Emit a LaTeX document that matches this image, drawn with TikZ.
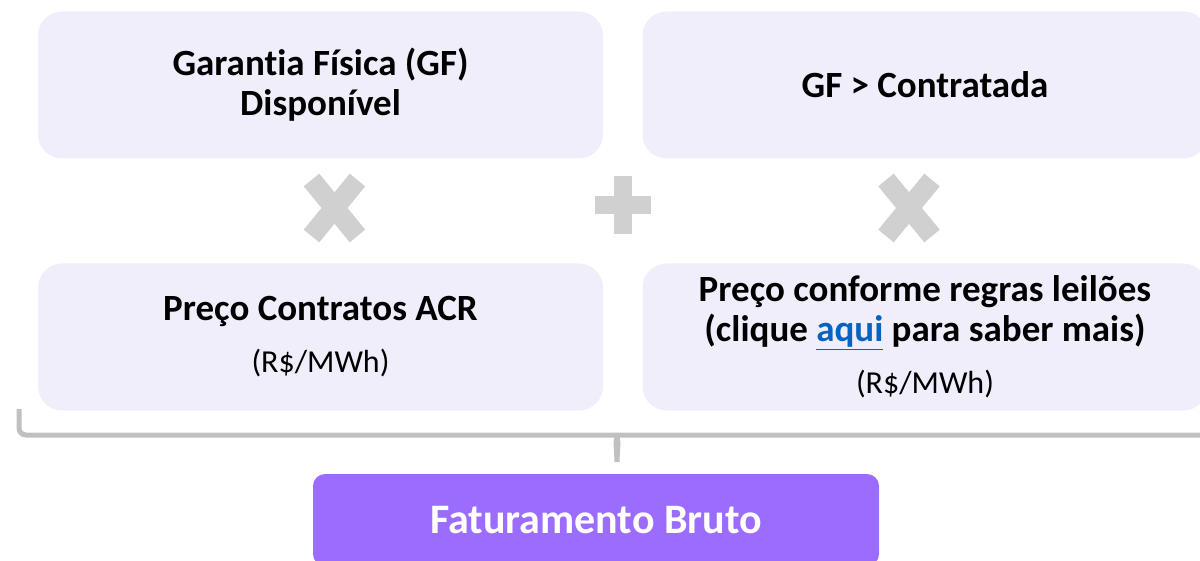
\documentclass[tikz,border=0pt]{standalone}
\usepackage{fontspec}
\setmainfont{Carlito}[RawFeature=-liga]
\usetikzlibrary{positioning}
\definecolor{boxfill}{RGB}{241,238,252}
\definecolor{signgray}{RGB}{208,208,208}
\definecolor{bracegray}{RGB}{192,192,192}
\definecolor{totalfill}{RGB}{155,108,255}
\definecolor{linkblue}{RGB}{5,99,193}
\newcommand{\unitnote}{{\fontsize{32}{40}\selectfont\mdseries (R\$/MWh)}}

\begin{document}
\begin{tikzpicture}[x=1pt,y=-1pt,
  termbox/.style={rectangle,rounded corners=24pt,fill=boxfill,minimum width=565pt,minimum height=147pt,align=center,inner sep=0pt,font=\fontsize{37}{40}\selectfont\bfseries},
  totalbox/.style={rectangle,rounded corners=12pt,fill=totalfill,minimum width=566pt,minimum height=92pt,inner sep=0pt,text=white,font=\fontsize{42}{48}\selectfont\bfseries},
  signline/.style={signgray,line width=20pt}]
\useasboundingbox (0,0) rectangle (1200,561);
\clip (0,0) rectangle (1200,561);

% factor boxes
\node[termbox, name=gf] at (320.5,85) {Garantia Física (GF)\\Disponível};
\node[termbox, name=gfextra] at (925,85) {GF > Contratada};
\node[termbox, name=acr] at (320.5,337) {Preço Contratos ACR\\[12pt]\unitnote};
\node[termbox, name=leilao] at (925,337) {Preço conforme regras leilões\\(clique {\color{linkblue}\underline{aqui}} para saber mais)\\[12pt]\unitnote};

% result box
\node[totalbox, name=total] at (596,520) {Faturamento Bruto};

% operators
\draw[signline] (311.5,180) -- (357.5,236);
\draw[signline] (357.5,180) -- (311.5,236);
\draw[signline] (886,180) -- (932,236);
\draw[signline] (932,180) -- (886,236);
\fill[signgray] (614,176) rectangle (632,234);
\fill[signgray] (595,196) rectangle (651,214);

% brace
\draw[bracegray,line width=5pt,rounded corners=7pt] (19,409) -- (19,435) -- (1215,435) -- (1215,409);
\fill[bracegray] (611,433) .. controls (615,435) .. (613.5,442) -- (614.5,462) -- (619.5,462) -- (620.5,442) .. controls (619,435) .. (623,433) -- cycle;
\end{tikzpicture}
\end{document}
